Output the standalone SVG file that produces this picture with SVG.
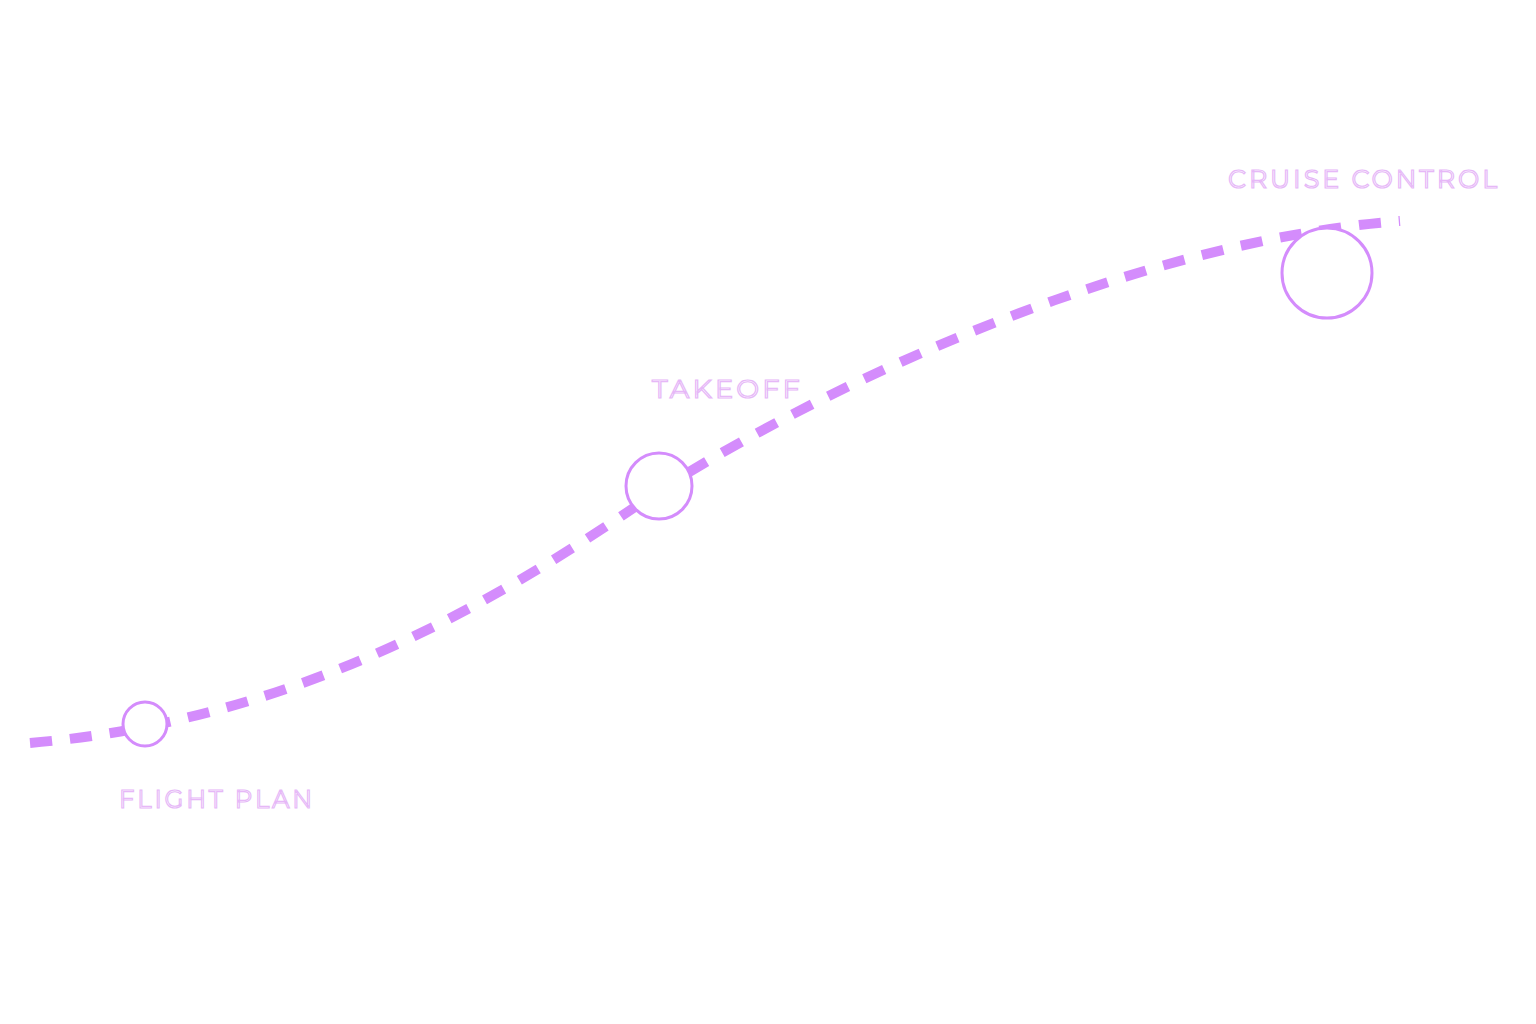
<svg xmlns="http://www.w3.org/2000/svg" width="1536" height="1024" viewBox="0 0 1536 1024">
<style>
.lbl{font-family:"Montserrat","Lato","Liberation Sans",sans-serif;font-size:26px;fill:#ffffff;stroke:#e6b8f7;stroke-width:1.2;letter-spacing:3px}
.node{fill:#ffffff;stroke:#d48cfc;stroke-width:3}
</style>
<rect width="1536" height="1024" fill="#ffffff"/>
<g id="connectors">
<path d="M30,743 C300,720 500,600 660,490 C850,370 1150,240 1400,221" fill="none" stroke="#d48cfc" stroke-width="10" stroke-dasharray="22 18"/>
</g>
<g id="flight-plan">
<circle class="node" cx="145" cy="724" r="22"/>
<text class="lbl" x="119" y="808" textLength="196" lengthAdjust="spacingAndGlyphs">FLIGHT PLAN</text>
</g>
<g id="takeoff">
<circle class="node" cx="659" cy="486" r="33"/>
<text class="lbl" x="652" y="398" textLength="151" lengthAdjust="spacingAndGlyphs">TAKEOFF</text>
</g>
<g id="cruise-control">
<circle class="node" cx="1327" cy="273" r="45"/>
<text class="lbl" x="1228" y="188" textLength="272" lengthAdjust="spacingAndGlyphs">CRUISE CONTROL</text>
</g>
</svg>
